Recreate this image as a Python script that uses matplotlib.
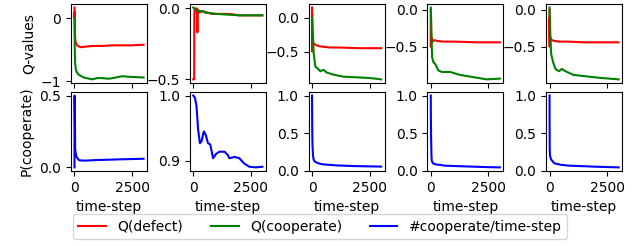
import matplotlib
matplotlib.use('Agg')
import matplotlib.pyplot as plt

# ---- Q-values (top row), one entry per run ----
qd_t = [
    [0, 5, 10, 20, 30, 50, 80, 120, 200, 300, 500, 800, 1200, 1600, 2000, 2500, 3000],
    [0, 40, 45, 60, 100, 150, 180, 200, 250, 400, 600, 800, 1200, 1600, 2000, 2500, 3000],
    [0, 3, 6, 10, 20, 40, 80, 150, 300, 500, 800, 1200, 2000, 3000],
    [0, 5, 10, 20, 40, 80, 150, 260, 500, 1000, 2000, 3000],
    [0, 5, 10, 20, 43, 100, 200, 400, 800, 1500, 2200, 3000],
]
qd_v = [
    [0.17, 0.0, 0.1, -0.2, -0.32, -0.38, -0.41, -0.43, -0.45, -0.46, -0.45, -0.44, -0.44, -0.43, -0.43, -0.43, -0.42],
    [-0.5, -0.5, -0.05, 0.0, -0.02, 0.0, -0.17, -0.01, -0.03, -0.02, -0.03, -0.04, -0.04, -0.04, -0.05, -0.05, -0.05],
    [0.15, -0.5, 0.05, -0.3, -0.35, -0.37, -0.38, -0.4, -0.42, -0.43, -0.44, -0.44, -0.45, -0.45],
    [0.0, -0.5, -0.1, -0.45, -0.38, -0.43, -0.41, -0.42, -0.43, -0.43, -0.44, -0.44],
    [0.0, -0.5, -0.1, -0.45, -0.38, -0.41, -0.42, -0.43, -0.43, -0.44, -0.44, -0.44],
]
qc_t = [
    [0, 10, 25, 60, 120, 200, 400, 770, 990, 1200, 1500, 1800, 2070, 2400, 3000],
    [0, 50, 100, 200, 390, 500, 800, 1020, 1500, 2000, 3000],
    [0, 43, 71, 143, 215, 357, 500, 640, 930, 1360, 1930, 2500, 3000],
    [0, 29, 58, 115, 190, 330, 480, 840, 1270, 1850, 2430, 3000],
    [0, 29, 72, 157, 257, 400, 543, 690, 1040, 1620, 2190, 3000],
]
qc_v = [
    [0.0, -0.45, -0.7, -0.82, -0.87, -0.9, -0.94, -0.97, -0.95, -0.95, -0.96, -0.94, -0.92, -0.93, -0.94],
    [0.005, 0.0, -0.01, -0.02, -0.02, -0.03, -0.035, -0.04, -0.045, -0.05, -0.05],
    [0.0, -0.27, -0.52, -0.72, -0.74, -0.79, -0.77, -0.81, -0.84, -0.87, -0.88, -0.89, -0.91],
    [0.03, -0.33, -0.64, -0.71, -0.73, -0.82, -0.84, -0.84, -0.88, -0.91, -0.94, -0.93],
    [0.03, -0.29, -0.6, -0.71, -0.8, -0.83, -0.8, -0.83, -0.88, -0.9, -0.92, -0.94],
]

# ---- fraction of cooperation (bottom row) ----
pc_t = [
    [0, 2, 5, 10, 20, 30, 50, 80, 100, 150, 200, 300, 500, 800, 1200, 1600, 2000, 2500, 3000],
    [0, 70, 140, 210, 290, 360, 460, 540, 640, 740, 860, 1000, 1140, 1360, 1500, 1570, 1790, 2000, 2210, 2430, 2710, 3000],
    [0, 10, 20, 43, 71, 140, 214, 350, 500, 800, 1070, 1800, 3000],
    [0, 5, 15, 30, 45, 100, 240, 400, 600, 1000, 1500, 2000, 2500, 3000],
    [0, 3, 8, 20, 70, 210, 350, 500, 800, 1200, 2000, 3000],
]
pc_v = [
    [0.0, 0.5, 0.5, 0.45, 0.3, 0.13, 0.1, 0.08, 0.07, 0.06, 0.05, 0.048, 0.047, 0.05, 0.052, 0.054, 0.056, 0.058, 0.06],
    [1.0, 0.997, 0.984, 0.948, 0.927, 0.93, 0.945, 0.94, 0.927, 0.925, 0.904, 0.911, 0.914, 0.914, 0.909, 0.904, 0.906, 0.904, 0.896, 0.891, 0.89, 0.891],
    [1.0, 0.55, 0.35, 0.2, 0.15, 0.12, 0.11, 0.095, 0.087, 0.08, 0.074, 0.065, 0.058],
    [1.0, 0.7, 0.43, 0.2, 0.13, 0.1, 0.085, 0.08, 0.07, 0.065, 0.06, 0.055, 0.05, 0.047],
    [1.0, 0.6, 0.3, 0.2, 0.15, 0.1, 0.09, 0.08, 0.07, 0.065, 0.055, 0.046],
]

top_ticks = [[0, -1], [0.0, -0.5], [0.0, -0.5], [0.0, -0.5], [0.0, -0.5]]
bot_ticks = [[0.0, 0.5], [0.9, 1.0], [0.0, 0.5, 1.0], [0.0, 0.5, 1.0], [0.0, 0.5, 1.0]]

fig, axes = plt.subplots(2, 5, figsize=(6.4, 2.46), dpi=100, sharex=True)
fig.subplots_adjust(left=0.111, right=0.972, top=0.984, bottom=0.305,
                    wspace=0.5625, hspace=0.114)

for i in range(5):
    a = axes[0, i]
    l1, = a.plot(qd_t[i], qd_v[i], color='r')
    l2, = a.plot(qc_t[i], qc_v[i], color='g')
    a.set_yticks(top_ticks[i])
    b = axes[1, i]
    l3, = b.plot(pc_t[i], pc_v[i], color='b')
    b.set_yticks(bot_ticks[i])
    b.set_xlabel('time-step')
    b.set_xticks([0, 2500])

axes[0, 0].set_ylabel('Q-values')
axes[1, 0].set_ylabel('P(cooperate)')

fig.legend([l1, l2, l3], ['Q(defect)', 'Q(cooperate)', '#cooperate/time-step'],
           loc='lower center', ncol=3, bbox_to_anchor=(0.5, 0.0))

fig.savefig('out.png')
